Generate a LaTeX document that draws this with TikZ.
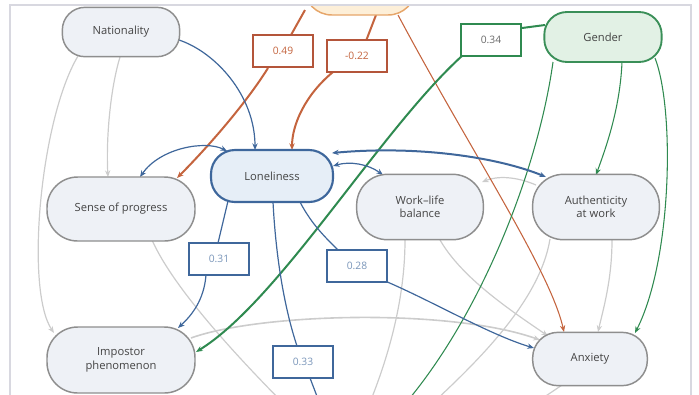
\documentclass[tikz,border=0pt]{standalone}
\usepackage{fontspec}
\setmainfont{Open Sans}
\usetikzlibrary{arrows.meta,calc,backgrounds}
\definecolor{gfill}{HTML}{EEF1F6}
\definecolor{gbord}{HTML}{8E8E8E}
\definecolor{bfill}{HTML}{E6EEF7}
\definecolor{bbord}{HTML}{3E679C}
\definecolor{grfill}{HTML}{E2F1E5}
\definecolor{grbord}{HTML}{3A8F58}
\definecolor{ofill}{HTML}{FDEFD8}
\definecolor{obord}{HTML}{E6A66A}
\definecolor{ocol}{HTML}{C4643E}
\definecolor{olab}{HTML}{B4553A}
\definecolor{gcol}{HTML}{2F8A50}
\definecolor{bcol}{HTML}{3F679B}
\definecolor{lgray}{HTML}{CCCCCC}
\definecolor{txt}{HTML}{444444}
\definecolor{framec}{HTML}{D8D8E0}
\begin{document}
\begin{tikzpicture}[x=0.75pt,y=-0.75pt,
  base/.style={line width=1.1pt, align=center, text=txt, inner sep=2pt,
    font=\fontsize{8.4}{10}\selectfont},
  gnode/.style={base, draw=gbord, fill=gfill, rounded corners=17pt},
  bignode/.style={gnode, rounded corners=23pt},
  lab/.style={draw, fill=white, line width=1.3pt, minimum width=45.5pt,
    minimum height=23.5pt, inner sep=1pt, font=\fontsize{7.7}{9}\selectfont},
  arr/.style={-{Stealth[length=5pt,width=4pt]}},
  arrb/.style={{Stealth[length=5pt,width=4pt]}-{Stealth[length=5pt,width=4pt]}},
  oe/.style={draw=ocol, line width=1.5pt},
  oet/.style={draw=ocol, line width=0.8pt},
  ge/.style={draw=gcol, line width=1.5pt},
  get/.style={draw=gcol, line width=0.8pt},
  be/.style={draw=bcol, line width=1.5pt},
  bet/.style={draw=bcol, line width=0.9pt},
  gr/.style={draw=lgray, line width=0.9pt}
]
\useasboundingbox (0,0) rectangle (699,394);

% ---------- nodes ----------
\begin{scope}
\clip (0,5) rectangle (699,394);
\node[base, draw=obord, fill=ofill, rounded corners=21pt, minimum width=84pt, minimum height=45pt] (top) at (360,-15) {};
\end{scope}
\node[gnode, minimum width=88pt, minimum height=37pt] (nat) at (121,32) {Nationality};
\node[base, draw=grbord, fill=grfill, rounded corners=17pt, line width=1.4pt, minimum width=88pt, minimum height=37.5pt] (gen) at (603,37) {Gender};
\node[base, draw=bbord, fill=bfill, rounded corners=18pt, line width=1.6pt, minimum width=91.5pt, minimum height=39pt] (lon) at (272,176) {Loneliness};
\node[bignode, minimum width=111pt, minimum height=48pt] (sop) at (121,209) {Sense of progress};
\node[bignode, minimum width=95pt, minimum height=49pt] (wlb) at (420,207) {Work\textendash life\\balance};
\node[bignode, minimum width=95pt, minimum height=49pt] (aut) at (596,207) {Authenticity\\at work};
\node[bignode, minimum width=111pt, minimum height=49.5pt] (imp) at (121,360) {Impostor\\phenomenon};
\node[gnode, rounded corners=19pt, minimum width=86pt, minimum height=40pt] (anx) at (590,359) {Anxiety};

% labels
\node[lab, draw=olab, text=ocol] (l49) at (283,51) {0.49};
\node[lab, draw=olab, text=ocol] (l22) at (357,56) {-0.22};
\node[lab, draw=gcol, text=txt!80] (l34) at (491,40) {0.34};
\node[lab, draw=bcol, text=bcol!70] (l31) at (219,259) {0.31};
\node[lab, draw=bcol, text=bcol!70] (l28) at (357,266) {0.28};
\node[lab, draw=bcol, text=bcol!70] (l33) at (303,362) {0.33};

% off-picture ends
\coordinate (goff) at (398,412);
\coordinate (boff) at (323,412);
\coordinate (soff) at (292,412);
\coordinate (woff) at (366,412);
\coordinate (aoff) at (423,412);
\coordinate (xoff) at (522,412);

\begin{pgfonlayer}{background}
% ---------- gray edges ----------
\draw[gr, arr] ($(nat)+(-1,25)$) .. controls (110,90) and (106,140) .. ($(sop)+(-13,-32)$);
\draw[gr, arr] ($(nat)+(-43,24)$) .. controls (40,120) and (25,290) .. ($(imp)+(-67,-27)$);
\draw[gr] ($(sop)+(31,31)$) .. controls (172,285) and (230,350) .. (soff);
\draw[gr, arr, line width=1.2pt] ($(imp)+(70,-22)$) .. controls (260,313) and (450,308) .. ($(anx)+(-50,-19)$);
\draw[gr, arr] ($(wlb)+(20,33)$) .. controls (462,278) and (510,310) .. ($(anx)+(-42,-23)$);
\draw[gr] ($(wlb)+(-15,33)$) .. controls (405,300) and (388,360) .. (woff);
\draw[gr] ($(aut)+(-46,32)$) .. controls (540,300) and (480,360) .. (aoff);
\draw[gr, arr] ($(aut)+(16,33)$) .. controls (612,280) and (603,310) .. ($(anx)+(8,-27)$);
\draw[gr, arr] ($(aut)+(-60,-22)$) .. controls (515,176) and (497,176) .. ($(wlb)+(62,-25)$);
\draw[gr, arr] (xoff) -- ($(anx)+(-19,20)$);

% ---------- orange edges ----------
\draw[oe] ($(top)+(-55,25)$) -- ($(l49)+(8,-16)$);
\draw[oe, arr] ($(l49)+(-15,17)$) .. controls (245,105) and (205,150) .. ($(sop)+(56,-31)$);
\draw[oe] ($(top)+(16,30)$) -- ($(l22)+(9,-15)$);
\draw[oe, arr] ($(l22)+(-24,16)$) .. controls (305,95) and (292,125) .. ($(lon)+(20,-26)$);
\draw[oet, arr] ($(top)+(38,30)$) .. controls (470,150) and (550,270) .. ($(anx)+(-26,-27)$);

% ---------- green edges ----------
\draw[ge] ($(gen)+(-58,-12)$) -- ($(l34)+(31,-12)$);
\draw[ge, arr] ($(l34)+(-28,15)$) .. controls (380,130) and (280,300) .. ($(imp)+(75,-8)$);
\draw[get, arr] ($(gen)+(19,25)$) .. controls (620,110) and (605,150) .. ($(aut)+(0,-32)$);
\draw[get, arr] ($(gen)+(52,21)$) .. controls (675,110) and (672,260) .. ($(anx)+(45,-26)$);
\draw[get] ($(gen)+(-50,25)$) .. controls (538,170) and (480,320) .. (goff);

% ---------- blue edges ----------
\draw[bet, arr] ($(nat)+(58,8)$) .. controls (215,52) and (255,95) .. ($(lon)+(-17,-26)$);
\draw[bet, arrb] ($(sop)+(19,-32)$) .. controls (160,148) and (205,140) .. ($(lon)+(-45,-25)$);
\draw[bet, arrb] ($(lon)+(61,-10)$) .. controls (350,161) and (368,164) .. ($(wlb)+(-37,-32)$);
\draw[be, arrb] ($(lon)+(60,-23)$) .. controls (420,145) and (500,158) .. ($(aut)+(-50,-30)$);
\draw[bet] ($(lon)+(-44,25)$) -- ($(l31)+(-1,-16)$);
\draw[bet, arr] ($(l31)+(-13,16)$) .. controls (204,300) and (192,315) .. ($(imp)+(57,-32)$);
\draw[bet] ($(lon)+(28,26)$) .. controls (312,225) and (326,238) .. ($(l28)+(-18,-15)$);
\draw[bet, arr] ($(l28)+(28,15)$) .. controls (430,300) and (490,335) .. ($(anx)+(-56,-11)$);
\draw[bet] ($(lon)+(1,26)$) .. controls (276,260) and (285,310) .. ($(l33)+(-6,-16)$);
\draw[bet] ($(l33)+(7,16)$) -- (boff);
\end{pgfonlayer}

% frame
\draw[framec, line width=0.8pt] (10,400) -- (10,5) -- (691,5) -- (691,400);
\end{tikzpicture}
\end{document}
